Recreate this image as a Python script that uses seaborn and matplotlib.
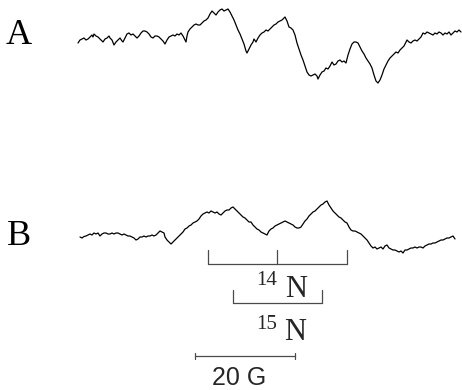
import numpy as np
import pandas as pd
import matplotlib
matplotlib.use("Agg")
import matplotlib.pyplot as plt
import seaborn as sns

sns.set_theme(style="white")
plt.rcParams['font.family'] = ['Liberation Serif', 'DejaVu Serif']

# ---------------- data ----------------
G_PER_CH = 0.2          # Gauss per scan channel
# spectrum A: scan channel, trace reading (downwards positive)
chan_A = [78, 80, 82, 84, 86, 88, 90, 92, 93, 94, 96, 98, 100, 102, 103, 105, 107, 109, 110, 112,
          114, 116, 118, 120, 122, 123, 125, 127, 129, 131, 133, 135, 137, 139, 141, 143, 145, 147, 149, 151,
          153, 155, 157, 159, 161, 163, 165, 167, 169, 171, 173, 175, 177, 179, 181, 183, 185, 186, 187, 188,
          190, 192, 194, 196, 198, 200, 202, 204, 206, 208, 210, 212, 214, 216, 218, 220, 222, 224, 226, 228,
          230, 232, 234, 236, 238, 240, 242, 244, 246, 247, 249, 251, 253, 254, 256, 258, 260, 262, 264, 266,
          268, 270, 272, 274, 276, 278, 280, 282, 284, 285, 287, 289, 291, 293, 295, 297, 299, 301, 303, 305,
          307, 309, 311, 313, 315, 317, 318, 320, 322, 324, 326, 328, 330, 332, 334, 336, 338, 340, 342, 344,
          346, 348, 350, 352, 354, 356, 358, 360, 362, 364, 366, 368, 370, 372, 374, 376, 378, 380, 382, 384,
          386, 388, 390, 392, 394, 396, 398, 400, 402, 404, 406, 407, 409, 411, 413, 415, 417, 419, 421, 423,
          425, 427, 429, 431, 433, 435, 437, 439, 441, 443, 445, 447, 449, 451, 453, 455, 457, 459, 461]
trace_A = [43, 40, 39, 38, 40, 39, 37, 35, 37, 34, 36, 37, 39, 41, 42, 39, 38, 36, 38, 40,
           45, 42, 40, 38, 41, 42, 38, 34, 33, 35, 34, 36, 38, 36, 33, 31, 31, 32, 34, 37,
           38, 36, 36, 37, 39, 41, 44, 40, 37, 36, 35, 36, 34, 35, 33, 36, 40, 42, 36, 32,
           29, 27, 25, 24, 25, 25, 23, 21, 20, 18, 14, 11, 13, 15, 12, 10, 9, 11, 10, 9,
           12, 16, 20, 25, 30, 34, 39, 44, 51, 53, 49, 45, 42, 39, 42, 38, 35, 33, 32, 30,
           31, 29, 27, 25, 24, 22, 21, 20, 18, 17, 21, 27, 28, 30, 35, 43, 49, 55, 60, 66,
           72, 75, 76, 75, 74, 76, 79, 75, 72, 71, 68, 69, 66, 62, 65, 64, 61, 60, 62, 61,
           63, 55, 49, 44, 42, 42, 43, 47, 51, 54, 58, 61, 64, 68, 75, 81, 83, 80, 75, 69,
           65, 61, 58, 56, 54, 52, 53, 50, 48, 46, 42, 40, 42, 43, 41, 40, 41, 39, 37, 33,
           34, 32, 33, 34, 35, 33, 34, 32, 33, 35, 33, 34, 32, 35, 33, 31, 32, 30, 32]

chan_B = [80, 82, 84, 86, 88, 90, 92, 94, 96, 98, 100, 102, 104, 106, 108, 110, 112, 114, 116, 118,
          120, 122, 124, 126, 128, 130, 132, 134, 136, 138, 140, 142, 144, 146, 148, 150, 152, 154, 156, 158,
          160, 162, 164, 165, 167, 169, 171, 173, 175, 177, 179, 181, 183, 185, 187, 189, 191, 193, 195, 197,
          199, 201, 203, 205, 207, 209, 211, 213, 215, 217, 219, 221, 223, 225, 227, 229, 231, 233, 235, 237,
          239, 241, 243, 245, 247, 249, 251, 253, 255, 257, 259, 261, 263, 265, 267, 269, 271, 273, 275, 277,
          279, 281, 283, 285, 287, 289, 291, 293, 295, 297, 299, 301, 303, 305, 307, 309, 311, 313, 315, 317,
          319, 321, 323, 325, 327, 329, 331, 333, 335, 337, 339, 341, 343, 345, 347, 349, 351, 353, 355, 357,
          359, 361, 363, 365, 367, 369, 371, 373, 375, 377, 379, 381, 383, 385, 387, 389, 391, 393, 395, 397,
          399, 401, 403, 405, 407, 409, 411, 413, 415, 417, 419, 421, 423, 425, 427, 429, 431, 433, 435, 437,
          439, 441, 443, 445, 447, 449, 451, 453, 455]
trace_B = [237, 238, 236.5, 236, 235, 234, 235, 233, 234, 233, 236, 234, 233, 233, 234, 234, 233, 234, 233, 233,
           234, 235, 234, 235, 236, 236, 237, 238, 240, 239, 237, 237, 236, 237, 236, 236, 235, 236, 235, 233,
           231, 232, 233, 237, 240, 242, 244, 242, 240, 238, 236, 234, 232, 229, 228, 226, 225, 223, 222, 221,
           219, 216, 214, 213, 212, 213, 211, 212, 213, 212, 214, 215, 213, 211, 210, 210, 208, 207, 209, 211,
           213, 215, 217, 218, 220, 222, 222, 225, 227, 229, 230, 232, 233, 234, 235, 231, 229, 228, 226, 225,
           224, 223, 222, 221, 222, 223, 224, 225, 227, 228, 228, 227, 224, 221, 219, 216, 214, 212, 211, 209,
           207, 205, 204, 202, 201, 205, 208, 211, 213, 215, 217, 218, 220, 222, 223, 227, 230, 231, 231, 232,
           233, 234, 236, 238, 240, 243, 246, 248, 247, 249, 248, 247, 249, 246, 245, 248, 249, 250, 250, 251,
           252, 251, 253, 250, 250, 249, 248, 248, 247, 248, 247, 247, 248, 246, 245, 244, 244, 243, 243, 242,
           241, 240, 240, 239, 238, 238, 237, 236, 239]

# stick diagrams (Gauss)
n14_center = 55.4
n14_split = 13.9
n15_center = 55.4
n15_split = 17.8
scale_start, scale_len = 39.0, 20.0

labels = ["A", "B"]
n14_label = ("14", "N")
n15_label = ("15", "N")
scale_label = "20 G"

# ---------------- figure ----------------
W, H = 462, 390
fig = plt.figure(figsize=(W / 100, H / 100), dpi=100)
ax = fig.add_axes([0, 0, 1, 1])

dfA = pd.DataFrame({"field": np.array(chan_A) * G_PER_CH, "y": trace_A})
dfB = pd.DataFrame({"field": np.array(chan_B) * G_PER_CH, "y": trace_B})
sns.lineplot(data=dfA, x="field", y="y", ax=ax, color="black", lw=0.9, estimator=None, sort=False)
sns.lineplot(data=dfB, x="field", y="y", ax=ax, color="black", lw=0.9, estimator=None, sort=False)
ax.set_xlim(0, W * G_PER_CH)
ax.set_ylim(H, 0)
ax.axis("off")

gray = "#4a4a4a"
# 14N triplet bracket
l14 = [n14_center - n14_split, n14_center, n14_center + n14_split]
ax.plot([l14[0], l14[2]], [263.5, 263.5], color=gray, lw=0.9)
for x in l14:
    ax.plot([x, x], [249.5, 263.5], color=gray, lw=0.9)
# 15N doublet bracket
l15 = [n15_center - n15_split / 2, n15_center + n15_split / 2]
ax.plot(l15, [302.5, 302.5], color=gray, lw=0.9)
for x in l15:
    ax.plot([x, x], [290, 302.5], color=gray, lw=0.9)
# scale bar
ax.plot([scale_start, scale_start + scale_len], [356, 356], color=gray, lw=0.9)
for x in (scale_start, scale_start + scale_len):
    ax.plot([x, x], [353, 359], color=gray, lw=0.9)

# texts
ax.text(6 * G_PER_CH, 44, labels[0], fontsize=26, va="baseline", ha="left", color="black")
ax.text(7 * G_PER_CH, 245, labels[1], fontsize=26, va="baseline", ha="left", color="black")
ax.text(256 * G_PER_CH, 285, n14_label[0], fontsize=15, va="baseline", ha="left")
ax.text(285 * G_PER_CH, 297, n14_label[1], fontsize=22, va="baseline", ha="left")
ax.text(256 * G_PER_CH, 329, n15_label[0], fontsize=15, va="baseline", ha="left")
ax.text(284 * G_PER_CH, 340, n15_label[1], fontsize=22, va="baseline", ha="left")
ax.text(212 * G_PER_CH, 385, scale_label, fontsize=18, va="baseline", ha="left",
        family=["Liberation Sans", "DejaVu Sans"])

fig.savefig("out.png", dpi=100, facecolor="white")
